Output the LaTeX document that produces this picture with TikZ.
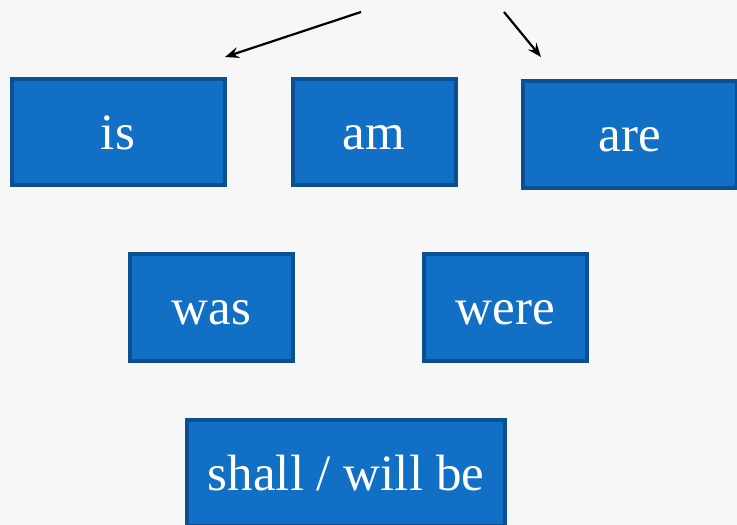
\documentclass[tikz,border=0pt]{standalone}
\usepackage{fontspec}
\setmainfont{Liberation Serif}
\usetikzlibrary{arrows.meta}
\definecolor{boxfill}{RGB}{17,111,198}
\definecolor{boxline}{RGB}{12,80,146}
\definecolor{bgcol}{RGB}{247,247,247}
\begin{document}
\begin{tikzpicture}[x=1pt,y=-1pt,
  wordbox/.style={draw=boxline,fill=boxfill,line width=4pt,inner sep=0pt,
    text=white,font=\fontsize{51}{60}\selectfont,text height=34pt,text depth=0pt},
  pointer/.style={draw=black,line width=2.2pt,-{Stealth[length=14pt,width=11pt,inset=5pt]}}]
\path[fill=bgcol] (0,0) rectangle (737,525);
\useasboundingbox (0,0) rectangle (737,525);
\begin{scope}
\clip (0,0) rectangle (737,525);
\node[wordbox,minimum width=213pt,minimum height=106pt] (is) at (118,132) {is};
\node[wordbox,minimum width=163pt,minimum height=106pt] (am) at (374,132) {am};
\node[wordbox,minimum width=214pt,minimum height=107pt] (are) at (630,134.5) {are};
\node[wordbox,minimum width=163pt,minimum height=107pt] (was) at (211.5,307.5) {was};
\node[wordbox,minimum width=163pt,minimum height=107pt] (were) at (505.5,307.5) {were};
\node[wordbox,minimum width=318pt,minimum height=106pt] (shall) at (346,473) {shall / will be};
\end{scope}
\coordinate (a1s) at (361,12);
\coordinate (a1e) at (225,57);
\coordinate (a2s) at (504,12);
\coordinate (a2e) at (541,57);
\draw[pointer] (a1s) -- (a1e);
\draw[pointer] (a2s) -- (a2e);
\end{tikzpicture}
\end{document}
